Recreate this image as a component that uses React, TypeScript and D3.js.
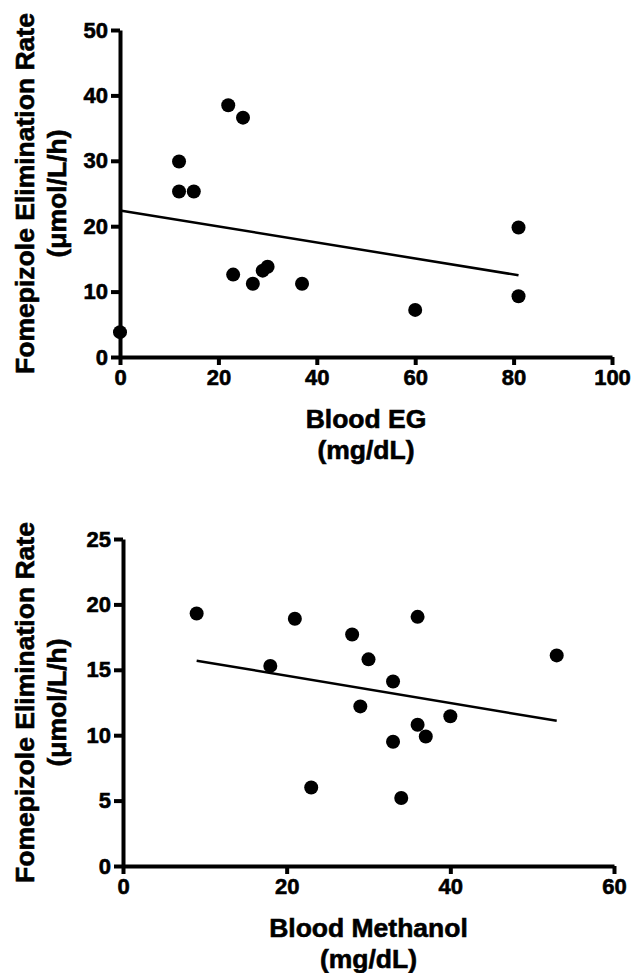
import React, { useEffect, useRef } from 'react';
import * as d3 from 'd3';

// Blood EG panel (mg/dL vs umol/L/h)
const egX = [0, 12, 12, 15, 22, 25, 23, 27, 29, 30, 37, 81, 81, 60];
const egY = [3.8, 29.9, 25.3, 25.3, 38.5, 36.6, 12.6, 11.2, 13.2, 13.8, 11.2, 19.8, 9.3, 7.2];
const egFit = [[0, 22.4], [81, 12.5]];
const egXTicks = [0, 20, 40, 60, 80, 100];
const egYTicks = [0, 10, 20, 30, 40, 50];

// Blood Methanol panel
const meX = [9, 21, 18, 23, 36, 28, 30, 33, 29, 40, 36, 37, 33, 34, 53];
const meY = [19.3, 18.9, 15.3, 6.0, 19.05, 17.7, 15.8, 14.1, 12.2, 11.45, 10.8, 9.9, 9.5, 5.2, 16.1];
const meFit = [[9, 15.7], [53, 11.1]];
const meXTicks = [0, 20, 40, 60];
const meYTicks = [0, 5, 10, 15, 20, 25];

const yTitle = ['Fomepizole Elimination Rate', '(\u03bcmol/L/h)'];
const FONT = '"Liberation Sans", Arial, sans-serif';

interface PanelProps {
  xs: number[];
  ys: number[];
  fit: number[][];
  xTicks: number[];
  yTicks: number[];
  xRange: [number, number];
  yRange: [number, number];
  xTitle: string[];
  xTitleY: number;
}

const boldText = (sel: any, size: number) =>
  sel
    .style('font-family', FONT)
    .style('font-weight', 'bold')
    .style('font-size', `${size}px`)
    .style('fill', '#000')
    .style('stroke', '#000')
    .style('stroke-width', '0.6px');

const Panel: React.FC<PanelProps> = ({ xs, ys, fit, xTicks, yTicks, xRange, yRange, xTitle, xTitleY }) => {
  const gRef = useRef<SVGGElement>(null);

  useEffect(() => {
    if (!gRef.current) return;
    const g = d3.select(gRef.current);
    g.selectAll('*').remove();

    const x = d3.scaleLinear()
      .domain([xTicks[0], xTicks[xTicks.length - 1]])
      .range(xRange);
    const y = d3.scaleLinear()
      .domain([yTicks[0], yTicks[yTicks.length - 1]])
      .range(yRange);

    const xAxis = g.append('g')
      .attr('transform', `translate(0,${yRange[0]})`)
      .call(d3.axisBottom(x).tickValues(xTicks).tickSize(8).tickSizeOuter(0).tickPadding(4).tickFormat(d3.format('d')));
    const yAxis = g.append('g')
      .attr('transform', `translate(${xRange[0]},0)`)
      .call(d3.axisLeft(y).tickValues(yTicks).tickSize(9).tickSizeOuter(0).tickPadding(3).tickFormat(d3.format('d')));

    [xAxis, yAxis].forEach(a => {
      a.select('.domain').style('stroke', '#000').style('stroke-width', '4px');
      a.selectAll('.tick line').style('stroke', '#000').style('stroke-width', '4px');
      boldText(a.selectAll('.tick text'), 22);
    });

    g.append('path')
      .datum(fit)
      .style('fill', 'none')
      .style('stroke', '#000')
      .style('stroke-width', '2.5px')
      .attr('d', d3.line<number[]>().x(d => x(d[0])).y(d => y(d[1])));

    g.selectAll('.dot')
      .data(xs.map((v, i) => [v, ys[i]]))
      .enter().append('circle')
      .attr('class', 'dot')
      .attr('cx', d => x(d[0]))
      .attr('cy', d => y(d[1]))
      .attr('r', 7)
      .attr('fill', '#000');

    const cx = (xRange[0] + xRange[1]) / 2;
    xTitle.forEach((t, i) => {
      boldText(
        g.append('text')
          .attr('x', cx)
          .attr('y', xTitleY + i * 31)
          .attr('text-anchor', 'middle'),
        26.5
      ).text(t);
    });

    const cy = (yRange[0] + yRange[1]) / 2;
    yTitle.forEach((t, i) => {
      const bx = 34 + i * 32;
      boldText(
        g.append('text')
          .attr('transform', `translate(${bx},${cy}) rotate(-90)`)
          .attr('text-anchor', 'middle'),
        26.5
      ).text(t);
    });
  }, [xs, ys, fit, xTicks, yTicks, xRange, yRange, xTitle, xTitleY]);

  return <g ref={gRef} />;
};

const App: React.FC = () => {
  return (
    <svg
      width={634}
      height={973}
      style={{ position: 'absolute', left: 0, top: 0, background: '#fff' }}
    >
      <rect width={634} height={973} fill="#fff" />
      <Panel
        xs={egX}
        ys={egY}
        fit={egFit}
        xTicks={egXTicks}
        yTicks={egYTicks}
        xRange={[120, 612]}
        yRange={[357, 30]}
        xTitle={['Blood EG', '(mg/dL)']}
        xTitleY={428}
      />
      <Panel
        xs={meX}
        ys={meY}
        fit={meFit}
        xTicks={meXTicks}
        yTicks={meYTicks}
        xRange={[123, 614]}
        yRange={[866, 539]}
        xTitle={['Blood Methanol', '(mg/dL)']}
        xTitleY={937}
      />
    </svg>
  );
};

export default App;
